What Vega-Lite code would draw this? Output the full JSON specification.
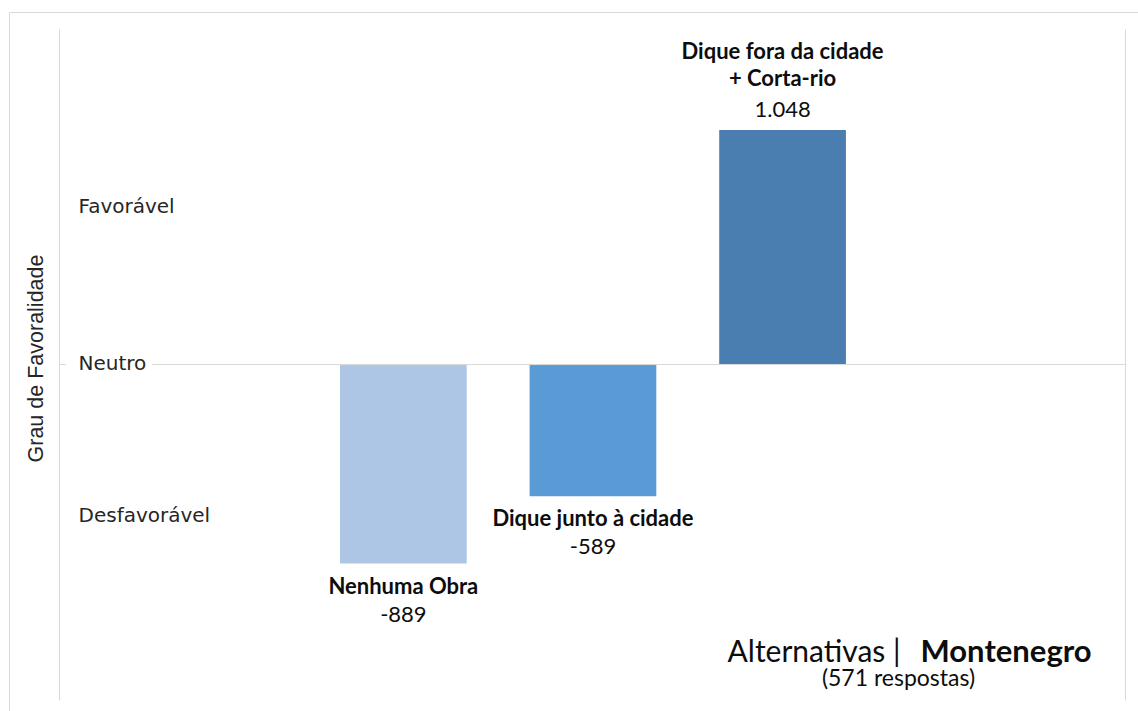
{
  "$schema": "https://vega.github.io/schema/vega-lite/v6.json",
  "width": 1129,
  "height": 699,
  "autosize": {"type": "none"},
  "padding": {"left": 9, "top": 12, "right": 0, "bottom": 0},
  "background": "white",
  "config": {"view": {"stroke": null}},
  "data": {
    "values": [
      {"alt": "Nenhuma Obra", "v": -889, "nome": "Nenhuma Obra", "rot": "-889"},
      {"alt": "Dique junto à cidade", "v": -589, "nome": "Dique junto à cidade", "rot": "-589"},
      {"alt": "Dique fora da cidade + Corta-rio", "v": 1048, "nome": "Dique fora da cidade\n+ Corta-rio", "rot": "1.048"}
    ]
  },
  "resolve": {"axis": {"x": "independent", "y": "independent"}},
  "layer": [
    {
      "mark": {"type": "bar"},
      "encoding": {
        "x": {
          "field": "alt", "type": "nominal",
          "sort": ["vazio1", "Nenhuma Obra", "Dique junto à cidade", "Dique fora da cidade + Corta-rio", "vazio2"],
          "scale": {"domain": ["vazio1", "Nenhuma Obra", "Dique junto à cidade", "Dique fora da cidade + Corta-rio", "vazio2"], "paddingInner": 0.3317, "paddingOuter": 0.6431, "align": 0.5798, "round": false},
          "axis": {
            "orient": "bottom", "domain": false, "labels": false, "ticks": false, "grid": false,
            "title": "Alternativas |", "titleFont": "Lato", "titleFontSize": 30, "titleFontWeight": "normal", "titleColor": "#0d0d0d",
            "titleAlign": "right", "titleBaseline": "alphabetic", "titleX": 891, "titleY": -50, "titleAngle": 0
          }
        },
        "y": {
          "field": "v", "type": "quantitative",
          "scale": {"domain": [-1548, 1575], "nice": false, "zero": true},
          "axis": {
            "orient": "left", "offset": -50, "values": [700, 0, -678],
            "labelExpr": "datum.value > 0 ? 'Favorável' : (datum.value < 0 ? 'Desfavorável' : 'Neutro')",
            "labelAlign": "left", "labelBaseline": "middle", "labelPadding": -19, "labelOffset": -1,
            "labelFont": "DejaVu Sans", "labelFontSize": 20, "labelColor": "#262626",
            "labelOverlap": false, "labelFlush": false, "labelBound": false,
            "ticks": false, "tickSize": 0, "grid": false,
            "domain": true, "domainColor": "#d9d9d9", "domainWidth": 1, "domainDash": [0, 11, 671, 100],
            "title": "Grau de Favoralidade", "titleFont": "Liberation Sans", "titleFontSize": 21.5, "titleFontWeight": "normal",
            "titleColor": "#262626", "titleAngle": -90, "titleAlign": "center", "titleBaseline": "alphabetic",
            "titleX": -17, "titleY": 346
          }
        },
        "color": {
          "field": "alt", "type": "nominal",
          "scale": {"domain": ["Nenhuma Obra", "Dique junto à cidade", "Dique fora da cidade + Corta-rio"], "range": ["#adc6e6", "#5b9bd5", "#4a7eb0"]},
          "legend": null
        }
      }
    },
    {
      "mark": {"type": "rule", "color": "#d9d9d9", "strokeWidth": 1, "strokeDash": [0, 13, 973, 86, 7, 100]},
      "encoding": {
        "y": {"datum": 0, "type": "quantitative", "axis": null}
      }
    },
    {
      "transform": [{"filter": "datum.v < 0"}],
      "mark": {"type": "text", "font": "Lato", "fontSize": 22, "fontWeight": "bold", "color": "#0d0d0d", "baseline": "alphabetic", "align": "center", "dy": 30},
      "encoding": {
        "x": {
          "field": "alt", "type": "nominal",
          "axis": {
            "orient": "top", "domain": true, "domainColor": "#d9d9d9", "domainWidth": 1, "labels": false, "ticks": false, "grid": false,
            "title": "Montenegro", "titleFont": "Lato", "titleFontSize": 31, "titleFontWeight": "bold", "titleColor": "#0d0d0d",
            "titleAlign": "left", "titleBaseline": "alphabetic", "titleX": 911, "titleY": 649, "titleAngle": 0
          }
        },
        "y": {"field": "v", "type": "quantitative", "axis": null},
        "text": {"field": "nome", "type": "nominal"}
      }
    },
    {
      "transform": [{"filter": "datum.v < 0"}],
      "mark": {"type": "text", "font": "Lato", "fontSize": 22, "fontWeight": "normal", "color": "#0d0d0d", "baseline": "alphabetic", "align": "center", "dy": 58},
      "encoding": {
        "x": {"field": "alt", "type": "nominal", "axis": null},
        "y": {
          "field": "v", "type": "quantitative",
          "axis": {
            "orient": "left", "offset": 0, "labels": false, "ticks": false, "grid": false, "title": null,
            "domain": true, "domainColor": "#d9d9d9", "domainWidth": 1
          }
        },
        "text": {"field": "rot", "type": "nominal"}
      }
    },
    {
      "transform": [{"filter": "datum.v > 0"}],
      "mark": {"type": "text", "font": "Lato", "fontSize": 22, "fontWeight": "normal", "color": "#0d0d0d", "baseline": "alphabetic", "align": "center", "dy": -13},
      "encoding": {
        "x": {"field": "alt", "type": "nominal", "axis": null},
        "y": {
          "field": "v", "type": "quantitative",
          "axis": {
            "orient": "left", "offset": -1116, "labels": false, "ticks": false, "grid": false,
            "domain": true, "domainColor": "#d9d9d9", "domainWidth": 1, "domainDash": [0, 11, 671, 100],
            "title": "(571 respostas)", "titleFont": "Lato", "titleFontSize": 23, "titleFontWeight": "normal", "titleColor": "#0d0d0d",
            "titleAngle": 0, "titleAlign": "center", "titleBaseline": "alphabetic", "titleX": -227, "titleY": 673
          }
        },
        "text": {"field": "rot", "type": "nominal"}
      }
    },
    {
      "transform": [{"filter": "datum.v > 0"}],
      "mark": {"type": "text", "font": "Lato", "fontSize": 22, "fontWeight": "bold", "color": "#0d0d0d", "baseline": "alphabetic", "align": "center", "dy": -71, "lineBreak": "\n", "lineHeight": 27},
      "encoding": {
        "x": {"field": "alt", "type": "nominal", "axis": null},
        "y": {"field": "v", "type": "quantitative", "axis": null},
        "text": {"field": "nome", "type": "nominal"}
      }
    }
  ]
}
